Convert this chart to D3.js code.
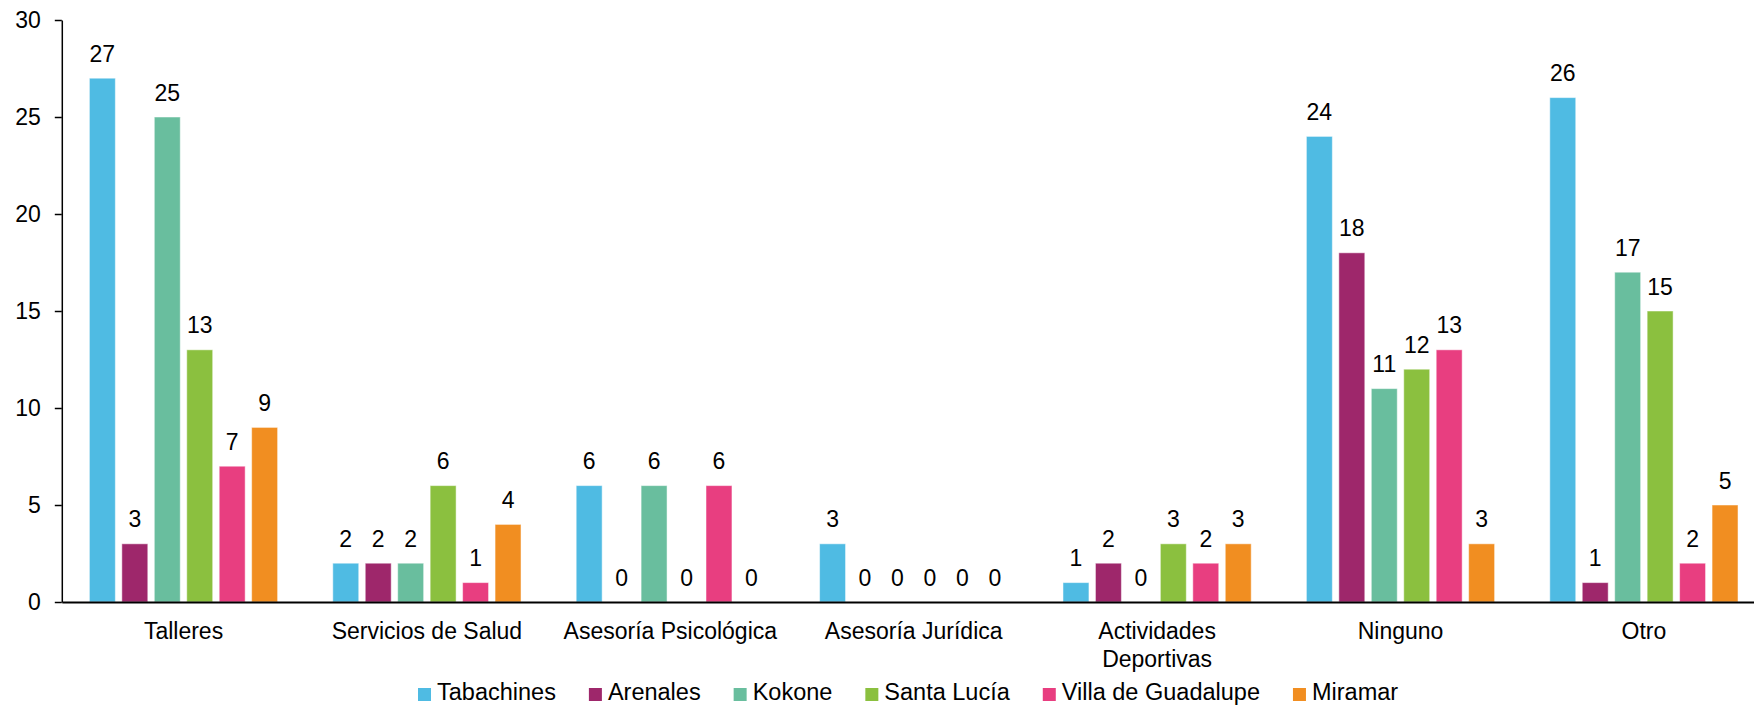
<!DOCTYPE html>
<html>
<head>
<meta charset="utf-8">
<script src="https://cdn.jsdelivr.net/npm/d3@7"></script>
<style>
  body { margin: 0; background: #fff; }
  svg { display: block; font-family: "Liberation Sans", Arial, sans-serif; }
</style>
</head>
<body>
<div id="chart-container"></div>
<script>
// categorias y series
const categorias = ["Talleres", "Servicios de Salud", "Asesoría Psicológica", "Asesoría Jurídica",
  "Actividades Deportivas", "Ninguno", "Otro"];
const series = ["Tabachines", "Arenales", "Kokone", "Santa Lucía", "Villa de Guadalupe", "Miramar"];
const tabachines = [27, 2, 6, 3, 1, 24, 26];
const arenales = [3, 2, 0, 0, 2, 18, 1];
const kokone = [25, 2, 6, 0, 0, 11, 17];
const santaLucia = [13, 6, 0, 0, 3, 12, 15];
const villaGuadalupe = [7, 1, 6, 0, 2, 13, 2];
const miramar = [9, 4, 0, 0, 3, 3, 5];
const yTicks = [0, 5, 10, 15, 20, 25, 30];

const colores = ["#4FBBE3", "#9E276B", "#69BE9E", "#8BC03F", "#E83E80", "#F18E21"];
const valores = [tabachines, arenales, kokone, santaLucia, villaGuadalupe, miramar];

const W = 1754, H = 705;
const margin = { top: 20, left: 61.8 };
const plotRight = 1765.6;
const y0 = 602;
const fs = 23;

const svg = d3.select("#chart-container")
  .append("svg")
  .attr("width", W)
  .attr("height", H);

const x0 = d3.scaleBand()
  .domain(categorias)
  .range([margin.left, plotRight])
  .paddingInner(0.2)
  .paddingOuter(0.1);

const x1 = d3.scaleBand()
  .domain(series)
  .range([0, x0.bandwidth()])
  .paddingInner(0.2)
  .paddingOuter(0.1);

const y = d3.scaleLinear()
  .domain([0, 30])
  .range([y0, margin.top]);

// filas de datos
const filas = [];
categorias.forEach((c, ci) => {
  series.forEach((s, si) => {
    filas.push({ cat: c, serie: s, v: valores[si][ci], color: colores[si] });
  });
});

// barras
svg.append("g")
  .selectAll("rect")
  .data(filas)
  .enter()
  .append("rect")
  .attr("x", d => x0(d.cat) + x1(d.serie))
  .attr("y", d => y(d.v))
  .attr("width", x1.bandwidth())
  .attr("height", d => y0 - y(d.v))
  .attr("fill", d => d.color)
  .attr("stroke", "#fff")
  .attr("stroke-opacity", 0.5)
  .attr("stroke-width", 1);

// etiquetas de valores
svg.append("g")
  .selectAll("text")
  .data(filas)
  .enter()
  .append("text")
  .text(d => d.v)
  .attr("x", d => x0(d.cat) + x1(d.serie) + x1.bandwidth() / 2)
  .attr("y", d => y(d.v) - 16.5)
  .attr("text-anchor", "middle")
  .attr("font-size", fs)
  .attr("fill", "#000");

// eje Y
const ejeY = svg.append("g")
  .attr("transform", `translate(${margin.left},0)`)
  .call(d3.axisLeft(y).tickValues(yTicks).tickSize(7).tickSizeOuter(0).tickPadding(14));
ejeY.select(".domain").attr("stroke", "#000").attr("stroke-width", 1.5);
ejeY.selectAll(".tick line").attr("stroke", "#000").attr("stroke-width", 1.5);
ejeY.selectAll("text").attr("font-size", fs).attr("font-family", null).attr("fill", "#000");

// eje X
const ejeX = svg.append("g")
  .attr("transform", `translate(0,${y0})`)
  .call(d3.axisBottom(x0).tickSize(0).tickSizeOuter(0).tickPadding(21));
ejeX.select(".domain").attr("stroke", "#000").attr("stroke-width", 2);
ejeX.selectAll("text")
  .attr("font-size", fs)
  .attr("font-family", null)
  .attr("fill", "#000")
  .call(wrap, 232);

function wrap(text, width) {
  text.each(function() {
    const t = d3.select(this);
    const palabras = t.text().split(/\s+/);
    const yy = t.attr("y"), dy = parseFloat(t.attr("dy"));
    let linea = [], n = 0;
    t.text(null);
    let tspan = t.append("tspan").attr("x", 0).attr("y", yy).attr("dy", dy + "em");
    palabras.forEach(p => {
      linea.push(p);
      tspan.text(linea.join(" "));
      if (tspan.node().getComputedTextLength() > width && linea.length > 1) {
        linea.pop();
        tspan.text(linea.join(" "));
        linea = [p];
        n++;
        tspan = t.append("tspan").attr("x", 0).attr("y", yy)
          .attr("dy", (dy + n * 1.2) + "em").text(p);
      }
    });
  });
}

// leyenda
const leyenda = svg.append("g");
let lx = 418;
series.forEach((s, i) => {
  leyenda.append("rect")
    .attr("x", lx)
    .attr("y", 688)
    .attr("width", 13)
    .attr("height", 13)
    .attr("fill", colores[i]);
  const t = leyenda.append("text")
    .attr("x", lx + 19)
    .attr("y", 700)
    .attr("font-size", 23.5)
    .attr("fill", "#000")
    .text(s);
  lx += 19 + t.node().getComputedTextLength() + 33;
});
</script>
</body>
</html>
